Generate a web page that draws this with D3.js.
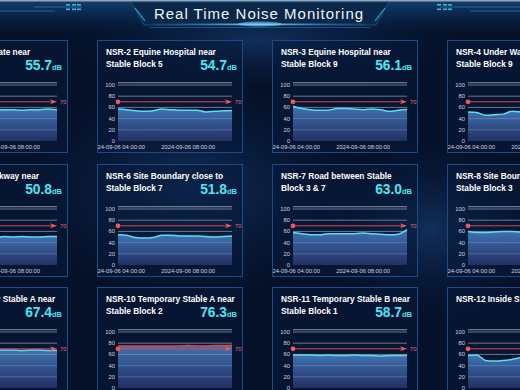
<!DOCTYPE html>
<html><head><meta charset="utf-8">
<script src="https://cdn.jsdelivr.net/npm/d3@7"></script>
<style>html,body{margin:0;padding:0;background:#051129;overflow:hidden;} svg{display:block;}</style>
</head><body>
<svg id="c" width="520" height="390"></svg>
<script>
// ---------- data ----------
const times = ["2024-09-06 04:00:00","2024-09-06 04:30:00","2024-09-06 05:00:00","2024-09-06 05:30:00",
  "2024-09-06 06:00:00","2024-09-06 06:30:00","2024-09-06 07:00:00","2024-09-06 07:30:00",
  "2024-09-06 08:00:00","2024-09-06 08:30:00","2024-09-06 09:00:00","2024-09-06 09:30:00",
  "2024-09-06 10:00:00","2024-09-06 10:30:00"];
const xTickLabels = ["2024-09-06 04:00:00","2024-09-06 08:00:00"];
const yTicks = [0,20,40,60,80,100];
const limitValue = 70;
const stationNames = [
  ["NSR-1 Old Site Gate near","Stable Block 1"],
  ["NSR-2 Equine Hospital near","Stable Block 5"],
  ["NSR-3 Equine Hospital near","Stable Block 9"],
  ["NSR-4 Under Walkway near","Stable Block 9"],
  ["NSR-5 Under Walkway near","Stable Block 7"],
  ["NSR-6 Site Boundary close to","Stable Block 7"],
  ["NSR-7 Road between Stable","Block 3 & 7"],
  ["NSR-8 Site Boundary near","Stable Block 3"],
  ["NSR-9 Temporary Stable A near","Stable Block 2"],
  ["NSR-10 Temporary Stable A near","Stable Block 2"],
  ["NSR-11 Temporary Stable B near","Stable Block 1"],
  ["NSR-12 Inside Stable Block 1",""]
];
const currentValues = [55.7,54.7,56.1,52.6,50.8,51.8,63.0,59.5,67.4,76.3,58.7,55.4];
const nsr1  = [56,57,55,56,55,54,55,56,56,55,56,56,57,55.7];
const nsr2  = [57,56,54,53,54,57,56,55,55,55,52,53,54,54.7];
const nsr3  = [62,58,56,55,55,58,58,57,56,57,56,53,55,56.1];
const nsr4  = [52,51,46,47,48,53,52,54,53,52,53,51,52,52.6];
const nsr5  = [51,52,50,51,50,50,49,51,50,51,50,50,51,50.8];
const nsr6  = [54,53,49,48,49,53,53,52,52,52,51,50,51,51.8];
const nsr7  = [58,56,54,54,56,56,56,56,57,56,55,54,55,63.0];
const nsr8  = [60,58,58,59,60,60,59,60,61,60,59,60,60,59.5];
const nsr9  = [68,68,67,68,68,67,68,68,68,67,68,68,67,67.4];
const nsr10 = [75,75,75,75,75,75,75,75,76,75,75,76,76,76.3];
const nsr11 = [59,59,59,58,59,58,58,59,58,58,57,58,58,58.7];
const nsr12 = [58,59,49,48,49,51,54,56,55,56,55,56,55,55.4];
const noiseSeries = [nsr1,nsr2,nsr3,nsr4,nsr5,nsr6,nsr7,nsr8,nsr9,nsr10,nsr11,nsr12];

// ---------- layout ----------
const W = 520, H = 390;
const colX = [-78, 97, 272, 447], rowY = [40, 164, 287];
const PW = 146, PH = 113;
const FONT = "'Liberation Sans', Arial, sans-serif";
const svg = d3.select("#c");
const defs = svg.append("defs");

// background
const bg = defs.append("radialGradient").attr("id","neb1").attr("cx","0.5").attr("cy","0.5").attr("r","0.5");
bg.append("stop").attr("offset","0").attr("stop-color","#1a4a86").attr("stop-opacity",0.55);
bg.append("stop").attr("offset","1").attr("stop-color","#0a2550").attr("stop-opacity",0);
svg.append("rect").attr("width",W).attr("height",H).attr("fill","#051129");
svg.append("ellipse").attr("cx",190).attr("cy",190).attr("rx",170).attr("ry",110).attr("fill","url(#neb1)");
svg.append("ellipse").attr("cx",430).attr("cy",230).attr("rx",110).attr("ry",90).attr("fill","url(#neb1)");
svg.append("ellipse").attr("cx",260).attr("cy",40).attr("rx",200).attr("ry",50).attr("fill","url(#neb1)");

// header
const hg = defs.append("linearGradient").attr("id","hdr").attr("x1",0).attr("y1",0).attr("x2",0).attr("y2",1);
hg.append("stop").attr("offset","0").attr("stop-color","#12467a").attr("stop-opacity",0.9);
hg.append("stop").attr("offset","1").attr("stop-color","#0a2a55").attr("stop-opacity",0);
svg.append("rect").attr("x",0).attr("y",0).attr("width",W).attr("height",34).attr("fill","url(#hdr)");
svg.append("rect").attr("x",0).attr("y",0).attr("width",W).attr("height",1.5).attr("fill","#9aa6b4");
svg.append("path").attr("d","M131,2 L389,2 L376,25 L144,25 Z").attr("fill","#0a2749").attr("stroke","#1d5b8f").attr("stroke-width",0.8);
const glow = defs.append("linearGradient").attr("id","glow").attr("x1",0).attr("x2",1);
glow.append("stop").attr("offset","0").attr("stop-color","#1a6fc0").attr("stop-opacity",0.2);
glow.append("stop").attr("offset","0.5").attr("stop-color","#8ad8ff").attr("stop-opacity",1);
glow.append("stop").attr("offset","1").attr("stop-color","#1a6fc0").attr("stop-opacity",0.2);
svg.append("rect").attr("x",155).attr("y",23.5).attr("width",210).attr("height",1.6).attr("fill","url(#glow)");
svg.append("ellipse").attr("cx",260).attr("cy",24).attr("rx",22).attr("ry",2.5).attr("fill","#6fd0ff").attr("opacity",0.6);
svg.append("line").attr("x1",150).attr("x2",370).attr("y1",27.5).attr("y2",27.5).attr("stroke","#1f5c93").attr("stroke-width",0.8);
[[135,8],[138,12],[141,16]].forEach(([x,y])=>svg.append("line").attr("x1",x).attr("y1",y).attr("x2",x+4).attr("y2",y+5).attr("stroke","#2fa3c8").attr("stroke-width",1.2));
[[385,8],[382,12],[379,16]].forEach(([x,y])=>svg.append("line").attr("x1",x).attr("y1",y).attr("x2",x-4).attr("y2",y+5).attr("stroke","#2fa3c8").attr("stroke-width",1.2));
svg.append("line").attr("x1",34).attr("x2",82).attr("y1",7).attr("y2",7).attr("stroke","#3c6f9d").attr("stroke-width",0.8);
svg.append("line").attr("x1",0).attr("x2",55).attr("y1",11).attr("y2",11).attr("stroke","#3c6f9d").attr("stroke-width",0.8);
svg.append("line").attr("x1",440).attr("x2",520).attr("y1",7).attr("y2",7).attr("stroke","#3c6f9d").attr("stroke-width",0.8);
svg.append("line").attr("x1",470).attr("x2",520).attr("y1",11).attr("y2",11).attr("stroke","#3c6f9d").attr("stroke-width",0.8);
[[66,4],[72,4],[77,4],[66,8.5],[72,8.5],[77,8.5],[437,4],[443,4],[448,4],[437,8.5],[443,8.5],[448,8.5]].forEach(([x,y])=>
  svg.append("rect").attr("x",x).attr("y",y).attr("width",4).attr("height",1.6).attr("fill","#3fb6e0"));
svg.append("text").attr("x",259).attr("y",18.5).attr("text-anchor","middle")
  .attr("font-family",FONT).attr("font-size",15).attr("letter-spacing",1).attr("fill","#eef3f8")
  .text("Real Time Noise Monitoring");

// gradients for panels
const ag = defs.append("linearGradient").attr("id","areaG").attr("x1",0).attr("y1",0).attr("x2",0).attr("y2",1);
ag.append("stop").attr("offset","0").attr("stop-color","#4378b8").attr("stop-opacity",0.95);
ag.append("stop").attr("offset","1").attr("stop-color","#27336a").attr("stop-opacity",0.9);

const x = d3.scaleTime().domain([new Date(times[0]), new Date(times[times.length-1])]).range([21,135]);
const y = d3.scaleLinear().domain([0,100]).range([101,45]);

const lg = defs.append("linearGradient").attr("id","lineG").attr("gradientUnits","userSpaceOnUse")
  .attr("x1",0).attr("x2",0).attr("y1",y(100)).attr("y2",y(0));
const off = (100-limitValue)/100;
lg.append("stop").attr("offset",0).attr("stop-color","#e8423f");
lg.append("stop").attr("offset",off).attr("stop-color","#e8423f");
lg.append("stop").attr("offset",off).attr("stop-color","#5adcf4");
lg.append("stop").attr("offset",1).attr("stop-color","#5adcf4");

const area = d3.area().x((d,i)=>x(new Date(times[i]))).y0(y(0)).y1(d=>y(d)).curve(d3.curveMonotoneX);
const line = d3.line().x((d,i)=>x(new Date(times[i]))).y(d=>y(d)).curve(d3.curveMonotoneX);

noiseSeries.forEach((vals,i)=>{
  const col = i%4, row = Math.floor(i/4);
  const g = svg.append("g").attr("transform",`translate(${colX[col]},${rowY[row]})`);
  defs.append("clipPath").attr("id","clip"+i).append("rect").attr("width",PW).attr("height",PH);
  g.append("rect").attr("width",PW).attr("height",PH).attr("fill","rgba(8,26,58,0.55)");
  const inner = g.append("g").attr("clip-path",`url(#clip${i})`);
  stationNames[i].forEach((t,k)=>inner.append("text").attr("x",9).attr("y",14.5+k*12.3)
    .attr("font-family",FONT).attr("font-weight","bold").attr("font-size",8.3).attr("fill","#ffffff").text(t));
  const vt = inner.append("text").attr("x",PW-6).attr("y",30).attr("text-anchor","end")
    .attr("font-family",FONT).attr("font-weight","bold").attr("fill","#4fe4f2");
  vt.append("tspan").attr("font-size",13.8).text(currentValues[i].toFixed(1));
  vt.append("tspan").attr("font-size",7.5).text("dB");
  inner.append("line").attr("x1",21).attr("x2",135).attr("y1",y(104)).attr("y2",y(104)).attr("stroke","#8c97a6").attr("stroke-width",1);
  inner.append("path").datum(vals).attr("d",area).attr("fill","url(#areaG)");
  yTicks.filter(t=>t>0).forEach(t=>{
    inner.append("line").attr("x1",21).attr("x2",135).attr("y1",y(t)).attr("y2",y(t))
      .attr("stroke", t>=60 ? "#8592a3" : "rgba(150,175,215,0.35)").attr("stroke-width",1)
      .attr("opacity", t>=60 ? 0.8 : 1);
  });
  inner.append("path").datum(vals).attr("d",line).attr("fill","none")
    .attr("stroke","url(#lineG)").attr("stroke-width",1.5);
  const ly = y(limitValue), xr = x.range()[1];
  inner.append("line").attr("x1",21).attr("x2",xr-4).attr("y1",ly).attr("y2",ly).attr("stroke","#d9474a").attr("stroke-width",1);
  inner.append("circle").attr("cx",21).attr("cy",ly).attr("r",2.4).attr("fill","#f0595b");
  inner.append("path").attr("d",`M${xr},${ly} L${xr-7},${ly-2.5} L${xr-5},${ly} L${xr-7},${ly+2.5} Z`).attr("fill","#f0595b");
  inner.append("text").attr("x",138).attr("y",ly+2).attr("font-family",FONT).attr("font-size",5.8).attr("fill","#f06868").text(limitValue);
  yTicks.forEach(t=>inner.append("text").attr("x",18).attr("y",y(t)+2).attr("text-anchor","end")
    .attr("font-family",FONT).attr("font-size",5.8).attr("fill","#cdd6e0").text(t));
  xTickLabels.forEach(t=>inner.append("text").attr("x",x(new Date(t))).attr("y",108.5).attr("text-anchor","middle")
    .attr("font-family",FONT).attr("font-size",5.8).attr("fill","#cdd6e0").text(t));
  g.append("rect").attr("x",0.5).attr("y",0.5).attr("width",PW-1).attr("height",PH-1).attr("fill","none")
    .attr("stroke","#1d4c84").attr("stroke-width",1);
});
</script>
</body></html>
